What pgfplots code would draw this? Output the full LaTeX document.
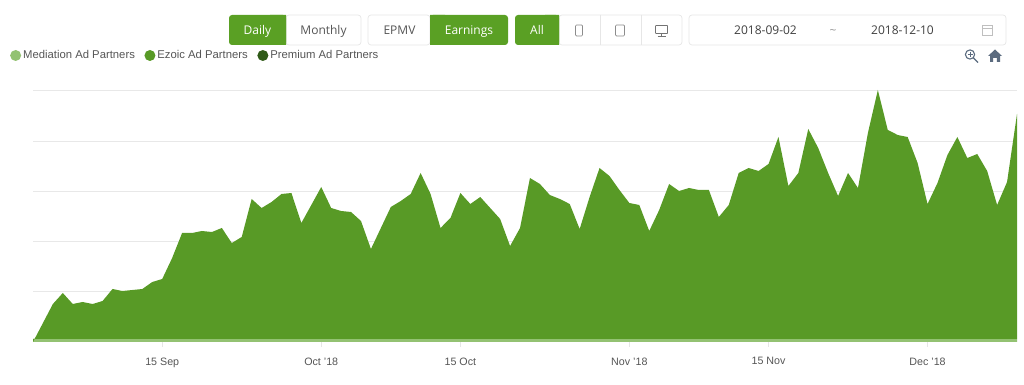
\documentclass[border=0pt]{standalone}
\usepackage{pgfplots}
\pgfplotsset{compat=1.18}
\usepackage{fontspec}
\setmainfont{Liberation Sans}
\newfontfamily\osans{Open Sans}
\definecolor{ez}{HTML}{589A26}
\definecolor{btn}{HTML}{5AA024}
\definecolor{med}{HTML}{93C272}
\definecolor{prem}{HTML}{2F5A17}
\definecolor{gridc}{HTML}{E8E8E8}
\definecolor{bord}{HTML}{E6E6E6}
\definecolor{txt}{HTML}{555555}
\definecolor{icon}{HTML}{5B6B7F}
\pgfplotstableread{
d h
0 0
1 19
2 38
3 49
4 38
5 40
6 38
7 41
8 53
9 51
10 52
11 53
12 60
13 63
14 84
15 109
16 109
17 111
18 110
19 114
20 99
21 105
22 143
23 134
24 140
25 148
26 149
27 119
28 137
29 155
30 134
31 131
32 130
33 121
34 93
35 114
36 135
37 141
38 148
39 169
40 148
41 114
42 124
43 149
44 138
45 145
46 134
47 123
48 96
49 114
50 164
51 158
52 147
53 143
54 138
55 113
56 145
57 174
58 166
59 152
60 139
61 137
62 111
63 132
64 158
65 151
66 154
67 152
68 152
69 125
70 137
71 169
72 174
73 171
74 178
75 205
76 156
77 169
78 213
79 194
80 169
81 146
82 169
83 154
84 209
85 252
86 212
87 207
88 205
89 179
90 138
91 159
92 187
93 205
94 184
95 188
96 171
97 137
98 160
99 228
}\ezoic
\pgfplotstableread{
d h
0 3
10 3
20 3
30 3
40 3
50 3
60 3
70 3
80 3
90 3
99 3
}\mediation
\begin{document}
\begin{tikzpicture}[x=1pt,y=1pt]
\useasboundingbox (0,0) rectangle (1024,385);
\begin{axis}[
  at={(33pt,43pt)},anchor=south west,
  scale only axis,width=984pt,height=251pt,
  xmin=0,xmax=99,ymin=0,ymax=251,
  clip=false,
  axis line style={draw=none},
  axis lines*=left,
  ymajorgrids,
  grid style={draw=gridc,line width=1pt},
  ytick={0,50.2,100.4,150.6,200.8,251},
  yticklabels={},
  y tick style={draw=none},
  xtick={13,29,43,60,74,90},
  xticklabels={15 Sep,Oct '18,15 Oct,Nov '18,15 Nov,Dec '18},
  x tick style={draw=bord,line width=0.7pt},
  xtick align=outside,
  major tick length=5pt,
  x tick label style={font=\fontsize{10.7}{12}\selectfont,text=txt,yshift=-7pt},
  legend style={draw=none,fill=none,at={(axis cs:-2.3,286.5)},anchor=west,
    font=\fontsize{11.3}{12}\selectfont,text=txt,
    legend columns=3,inner sep=0pt,outer sep=0pt,
    /tikz/every even column/.append style={column sep=7.5pt}},
  legend image code/.code={\fill[#1] (-5pt,0pt) circle (5.5pt);},
  legend cell align=left,
]
\addplot[draw=none,fill=med,forget plot] table[x=d,y=h] {\mediation} \closedcycle;
\addlegendimage{fill=med,draw=none}
\addlegendentry{Mediation Ad Partners}
\addlegendimage{fill=ez,draw=none}
\addlegendentry{Ezoic Ad Partners}
\addlegendimage{fill=prem,draw=none}
\addlegendentry{Premium Ad Partners}
\addplot[draw=none,fill=ez,forget plot] table[x=d,y=h] {\ezoic} -- (axis cs:99,3) -- (axis cs:0,3) -- cycle;
\end{axis}
\begin{scope}[y=-1pt,yshift=385pt,font=\osans\fontsize{12}{14}\selectfont]
% button outlines
\draw[bord,fill=white,rounded corners=3pt,line width=0.7pt] (286,15) rectangle (361,45);
\draw[bord,fill=white,rounded corners=3pt,line width=0.7pt] (368,15) rectangle (430,45);
\draw[bord,fill=white,rounded corners=3pt,line width=0.7pt] (559,15) rectangle (682,45);
\draw[bord,fill=white,rounded corners=3pt,line width=0.7pt] (689,15) rectangle (1006,45);
\draw[bord,line width=0.7pt] (600,15)--(600,45) (641,15)--(641,45);
% green buttons
\fill[btn,rounded corners=3pt] (229,15) rectangle (286,45);
\fill[btn,rounded corners=3pt] (430,15) rectangle (508,45);
\fill[btn,rounded corners=3pt] (515,15) rectangle (559,45);
\fill[btn] (270,15) rectangle (286,45) (430,15) rectangle (445,45) (545,15) rectangle (559,45);
\node[white,anchor=base] at (257.5,34.5) {Daily};
\node[txt,anchor=base] at (323.5,34.5) {Monthly};
\node[txt,anchor=base] at (399.5,34.5) {EPMV};
\node[white,anchor=base] at (469,34.5) {Earnings};
\node[white,anchor=base] at (537,34.5) {All};
\node[text=black!75,anchor=base] at (765.5,35) {2018-09-02};
\node[text=black!40,anchor=base] at (833,35) {\textasciitilde};
\node[text=black!75,anchor=base] at (902.5,35) {2018-12-10};
% phone, tablet, monitor, calendar
\draw[black!45,rounded corners=1pt,line width=0.7pt] (575.5,25) rectangle (582.5,36);
\draw[black!45,rounded corners=1pt,line width=0.7pt] (615.5,25) rectangle (624.5,36);
\draw[black!55,rounded corners=0.5pt,line width=0.7pt] (655.5,25.5) rectangle (667.5,33.5);
\draw[black!55,line width=0.7pt] (661.5,33.5)--(661.5,36) (657.5,36)--(665.5,36);
\draw[black!25,line width=0.7pt] (982.5,25.5) rectangle (992.5,35) (982.5,28.5)--(992.5,28.5);
% zoom and home icons
\draw[icon,line width=1.1pt] (970,54.5) circle (4.6pt) (973.5,58)--(978,62.5);
\draw[icon,line width=0.7pt] (967.5,54.5)--(972.5,54.5) (970,52)--(970,57);
\fill[icon] (995,49.5)--(1002,56)--(1000,56)--(1000,62)--(996.8,62)--(996.8,58)--(993.2,58)--(993.2,62)--(990,62)--(990,56)--(988,56)--cycle;
\end{scope}
\end{tikzpicture}
\end{document}
